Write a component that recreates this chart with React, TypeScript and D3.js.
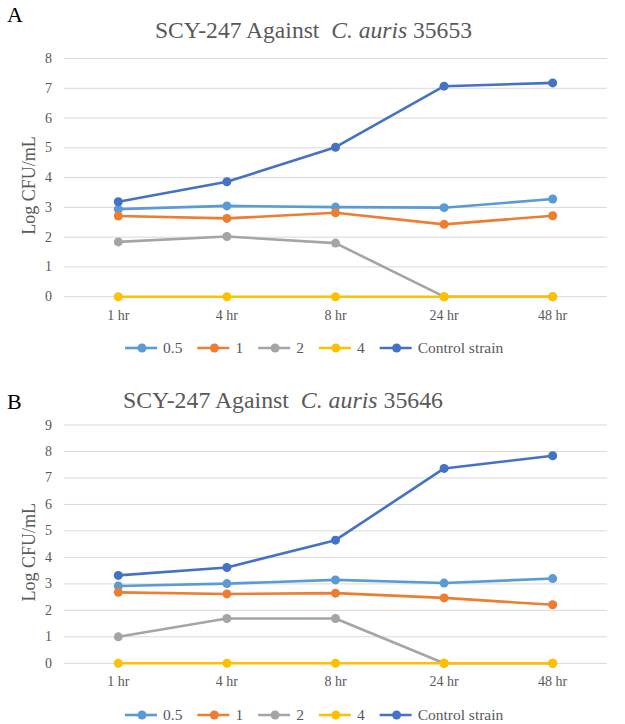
import { useEffect, useRef } from "react";
import * as d3 from "d3";

// time points on the x axis
const timepoints = ["1 hr", "4 hr", "8 hr", "24 hr", "48 hr"];
const seriesNames = ["0.5", "1", "2", "4", "Control strain"];
const seriesColors = ["#5B9BD5", "#ED7D31", "#A5A5A5", "#FFC000", "#4472C4"];

// panel A: C. auris 35653
const a05 = [2.94, 3.05, 3.01, 2.99, 3.28];
const a1 = [2.71, 2.63, 2.82, 2.43, 2.72];
const a2 = [1.84, 2.02, 1.8, 0, 0];
const a4 = [0, 0, 0, 0, 0];
const aControl = [3.19, 3.86, 5.02, 7.07, 7.18];

// panel B: C. auris 35646
const b05 = [2.92, 3.01, 3.15, 3.03, 3.2];
const b1 = [2.68, 2.62, 2.65, 2.47, 2.21];
const b2 = [1.0, 1.69, 1.69, 0, 0];
const b4 = [0, 0, 0, 0, 0];
const bControl = [3.32, 3.62, 4.65, 7.36, 7.84];

const FONT = "'Liberation Serif', 'Times New Roman', serif";
const GRAY = "#595959";

function drawPanel(svg, opts) {
  const { letter, letterY, strain, titleX, titleY, titleLen, series, yMax, yTop, yBottom, legendY } = opts;
  const g = svg.append("g");

  g.append("text")
    .attr("x", 7)
    .attr("y", letterY)
    .attr("font-family", FONT)
    .attr("font-size", 22)
    .attr("fill", "#000")
    .text(letter);

  const title = g
    .append("text")
    .attr("x", titleX)
    .attr("y", titleY)
    .attr("font-family", FONT)
    .attr("font-size", 24)
    .attr("fill", GRAY)
    .attr("textLength", titleLen)
    .attr("lengthAdjust", "spacingAndGlyphs");
  title.append("tspan").text("SCY-247 Against\u00a0 ");
  title.append("tspan").attr("font-style", "italic").text("C. auris");
  title.append("tspan").text(" " + strain);

  const x = d3.scalePoint().domain(timepoints).range([64, 607]).padding(0.5);
  const y = d3.scaleLinear().domain([0, yMax]).range([yBottom, yTop]);

  // gridlines
  g.append("g")
    .selectAll("line")
    .data(y.ticks(yMax))
    .enter()
    .append("line")
    .attr("x1", 64)
    .attr("x2", 607)
    .attr("y1", (d) => y(d))
    .attr("y2", (d) => y(d))
    .attr("stroke", "#d9d9d9")
    .attr("stroke-width", 1);

  // y tick labels
  g.append("g")
    .selectAll("text")
    .data(y.ticks(yMax))
    .enter()
    .append("text")
    .attr("x", 52)
    .attr("y", (d) => y(d) + 4.5)
    .attr("text-anchor", "end")
    .attr("font-family", FONT)
    .attr("font-size", 14)
    .attr("fill", GRAY)
    .text((d) => d);

  // x tick labels
  g.append("g")
    .selectAll("text")
    .data(timepoints)
    .enter()
    .append("text")
    .attr("x", (d) => x(d))
    .attr("y", yBottom + 23)
    .attr("text-anchor", "middle")
    .attr("font-family", FONT)
    .attr("font-size", 14)
    .attr("fill", GRAY)
    .text((d) => d);

  // y axis title
  g.append("text")
    .attr("transform", `translate(35, ${(yTop + yBottom) / 2 + 8}) rotate(-90)`)
    .attr("text-anchor", "middle")
    .attr("font-family", FONT)
    .attr("font-size", 18)
    .attr("fill", GRAY)
    .text("Log CFU/mL");

  const line = d3
    .line()
    .x((d, i) => x(timepoints[i]))
    .y((d) => y(d));

  series.forEach((vals, si) => {
    g.append("path")
      .datum(vals)
      .attr("d", line)
      .attr("fill", "none")
      .attr("stroke", seriesColors[si])
      .attr("stroke-width", 2.6)
      .attr("stroke-linejoin", "round");
    g.append("g")
      .selectAll("circle")
      .data(vals)
      .enter()
      .append("circle")
      .attr("cx", (d, i) => x(timepoints[i]))
      .attr("cy", (d) => y(d))
      .attr("r", 4.5)
      .attr("fill", seriesColors[si]);
  });

  // legend
  const legend = g.append("g");
  let lx = 125;
  seriesNames.forEach((name, si) => {
    const item = legend.append("g");
    item
      .append("line")
      .attr("x1", lx)
      .attr("x2", lx + 32)
      .attr("y1", legendY)
      .attr("y2", legendY)
      .attr("stroke", seriesColors[si])
      .attr("stroke-width", 2.6);
    item
      .append("circle")
      .attr("cx", lx + 17)
      .attr("cy", legendY)
      .attr("r", 4.5)
      .attr("fill", seriesColors[si]);
    const t = item
      .append("text")
      .attr("x", lx + 38)
      .attr("y", legendY + 5)
      .attr("font-family", FONT)
      .attr("font-size", 15.5)
      .attr("fill", GRAY)
      .text(name);
    const w = t.node().getComputedTextLength();
    lx += 38 + w + 15;
  });
}

const App = () => {
  const svgRef = useRef(null);

  useEffect(() => {
    const svg = d3.select(svgRef.current);
    svg.selectAll("*").remove();

    drawPanel(svg, {
      letter: "A",
      letterY: 22,
      strain: "35653",
      titleX: 155,
      titleY: 38,
      titleLen: 317,
      series: [a05, a1, a2, a4, aControl],
      yMax: 8,
      yTop: 58.5,
      yBottom: 296.7,
      legendY: 348,
    });

    drawPanel(svg, {
      letter: "B",
      letterY: 409,
      strain: "35646",
      titleX: 123,
      titleY: 408,
      titleLen: 320,
      series: [b05, b1, b2, b4, bControl],
      yMax: 9,
      yTop: 425,
      yBottom: 663.3,
      legendY: 715,
    });
  }, []);

  return (
    <svg
      ref={svgRef}
      width={625}
      height={724}
      style={{ position: "absolute", left: 0, top: 0, background: "#fff" }}
    ></svg>
  );
};

export default App;
